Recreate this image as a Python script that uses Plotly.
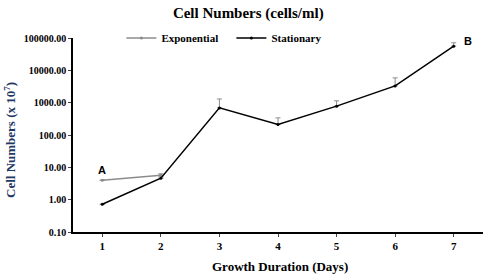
import plotly.graph_objects as go

days = [1, 2, 3, 4, 5, 6, 7]
exp_days = [1, 2]
exp_vals = [4.0, 5.7]
exp_err = [0, 0.6]
stat_vals = [0.72, 4.6, 690, 211, 780, 3300, 56000]
stat_err = [0, 0.5, 610, 127, 360, 2550, 15000]
yticks = [0.1, 1, 10, 100, 1000, 10000, 100000]
yticklabels = ["<b>%.2f</b>" % v for v in yticks]
xticklabels = ["<b>%d</b>" % d for d in days]

serif = "Liberation Serif"
fig = go.Figure()
fig.add_trace(go.Scatter(
    x=exp_days, y=exp_vals, name="<b>Exponential</b>", mode="lines+markers",
    line=dict(color="#8c8c8c", width=1.5), marker=dict(size=3, color="#8c8c8c"),
    error_y=dict(type="data", array=exp_err, arrayminus=[0, 0], symmetric=False,
                 color="#8c8c8c", thickness=1, width=2.5)))
fig.add_trace(go.Scatter(
    x=days, y=stat_vals, name="<b>Stationary</b>", mode="lines+markers",
    line=dict(color="black", width=1.5), marker=dict(size=3, color="black"),
    error_y=dict(type="data", array=stat_err, arrayminus=[0]*7, symmetric=False,
                 color="#8c8c8c", thickness=1, width=2.5)))

fig.add_annotation(x=1, y=0.93, yref="y", xref="x", text="<b>A</b>", showarrow=False,
                   font=dict(family="Liberation Sans", size=11, color="black"))
fig.add_annotation(x=7.25, y=4.9, xref="x", yref="y", text="<b>B</b>", showarrow=False,
                   font=dict(family="Liberation Sans", size=11, color="black"))
fig.add_annotation(x=(280 - 73) / 410, xref="paper", y=-(266 - 232) / 194, yref="paper",
                   text="<b>Growth Duration (Days)</b>", showarrow=False,
                   xanchor="center", yanchor="middle",
                   font=dict(family=serif, size=13, color="black"))
fig.add_annotation(x=-(73 - 10) / 410, xref="paper", y=(232 - 140) / 194, yref="paper",
                   text="<b>Cell Numbers (x 10<sup>7</sup>)</b>", showarrow=False, textangle=-90,
                   xanchor="center", yanchor="middle",
                   font=dict(family=serif, size=13, color="#1F3864"))

fig.update_layout(
    width=484, height=275,
    margin=dict(l=73, r=1, t=38, b=43),
    paper_bgcolor="white", plot_bgcolor="white",
    title=dict(text="<b>Cell Numbers (cells/ml)</b>", x=0.513, xanchor="center", y=0.955, yanchor="middle",
               font=dict(family=serif, size=15, color="black")),
    legend=dict(orientation="h", x=0.118, xanchor="left", y=1.0, yanchor="middle",
                font=dict(family=serif, size=11, color="black"), bgcolor="rgba(0,0,0,0)",
                itemwidth=30, entrywidth=65),
    showlegend=True,
    xaxis=dict(range=[0.5, 7.5], tickvals=days, ticktext=xticklabels, ticks="outside", ticklen=3,
               showline=True, linecolor="black", linewidth=1.5, showgrid=False, zeroline=False,
               automargin=False,
               tickfont=dict(family=serif, size=11, color="black")),
    yaxis=dict(type="log", range=[-1, 5], tickvals=yticks, ticktext=yticklabels,
               ticks="outside", ticklen=3, showline=True, linecolor="black", linewidth=1.5,
               showgrid=False, zeroline=False, automargin=False,
               tickfont=dict(family=serif, size=10, color="black")),
)
fig.write_html("out.html", config={"displayModeBar": False},
               post_script="document.body.style.margin='0';")
